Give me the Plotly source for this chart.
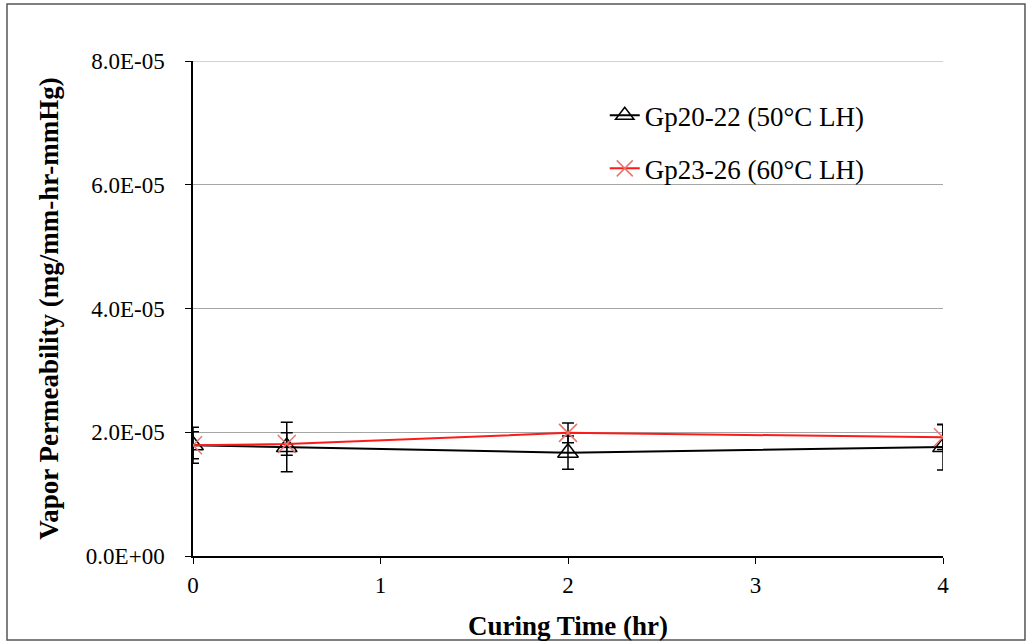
import plotly.graph_objects as go

# Curing time (hr)
curing_time = [0, 0.5, 2, 4]

# Vapor permeability (mg/mm-hr-mmHg) and standard deviations
gp20_22 = [1.79e-5, 1.76e-5, 1.67e-5, 1.76e-5]
gp20_22_err = [0.29e-5, 0.40e-5, 0.27e-5, 0.37e-5]
gp23_26 = [1.79e-5, 1.81e-5, 1.99e-5, 1.92e-5]
gp23_26_err = [0.22e-5, 0.18e-5, 0.16e-5, 0.20e-5]

series_names = ["Gp20-22 (50°C LH)", "Gp23-26 (60°C LH)"]

y_tickvals = [0, 2e-5, 4e-5, 6e-5, 8e-5]
y_ticktext = ["0.0E+00", "2.0E-05", "4.0E-05", "6.0E-05", "8.0E-05"]
x_tickvals = [0, 1, 2, 3, 4]

FONT = "Liberation Serif, Times New Roman, serif"

fig = go.Figure()

fig.add_trace(go.Scatter(
    x=curing_time, y=gp20_22, name=series_names[0], mode="lines+markers",
    legendgroup="g1",
    line=dict(color="black", width=2),
    marker=dict(symbol="triangle-up-open", size=18, color="black",
                line=dict(color="black", width=1.5)),
    error_y=dict(type="data", array=gp20_22_err, visible=True,
                 color="black", thickness=1.5, width=6),
))

fig.add_trace(go.Scatter(
    x=curing_time, y=gp23_26, name=series_names[1], mode="lines+markers",
    legendgroup="g2",
    line=dict(color="#ff1a1a", width=2),
    marker=dict(symbol="x-thin-open", size=18, color="#e8746c",
                line=dict(color="#e8746c", width=1.5)),
    error_y=dict(type="data", array=gp23_26_err, visible=True,
                 color="black", thickness=1.5, width=6),
))

fig.update_layout(
    width=1029, height=643,
    margin=dict(l=193, r=86, t=61, b=87),
    paper_bgcolor="white", plot_bgcolor="white",
    font=dict(family=FONT, size=23, color="black"),
    showlegend=True,
    legend=dict(x=0.549, y=0.939, xanchor="left", yanchor="top",
                font=dict(family=FONT, size=27, color="black"),
                bgcolor="rgba(0,0,0,0)", tracegroupgap=15,
                traceorder="grouped"),
    shapes=[
        # outer frame
        dict(type="rect", xref="paper", yref="paper",
             x0=-0.248, x1=1.1093, y0=-0.1697, y1=1.115,
             line=dict(color="#555555", width=1.5), layer="below"),
        # gridline at the top of the value range
        dict(type="line", xref="paper", yref="y",
             x0=0, x1=1, y0=y_tickvals[-1], y1=y_tickvals[-1],
             line=dict(color="#a6a6a6", width=1.2), layer="below"),
    ],
)

fig.update_xaxes(
    range=[0, 4], tickvals=x_tickvals, ticks="outside", ticklen=6,
    tickcolor="black", showline=True, linecolor="black", linewidth=1.5,
    showgrid=False, zeroline=False, automargin=False,
    tickfont=dict(family=FONT, size=23), ticklabelstandoff=2,
    title=dict(text="<b>Curing Time (hr)</b>", font=dict(family=FONT, size=27),
               standoff=19),
)

fig.update_yaxes(
    range=[0, 8e-5], tickvals=y_tickvals, ticktext=y_ticktext,
    ticks="outside", ticklen=6, tickcolor="black",
    showline=True, linecolor="black", linewidth=1.5,
    showgrid=True, gridcolor="#a6a6a6", gridwidth=1.2, zeroline=False,
    automargin=False,
    tickfont=dict(family=FONT, size=23), ticklabelstandoff=16,
    title=dict(text="<b>Vapor Permeability (mg/mm-hr-mmHg)</b>",
               font=dict(family=FONT, size=27), standoff=19),
)

fig.write_html("out.html")
